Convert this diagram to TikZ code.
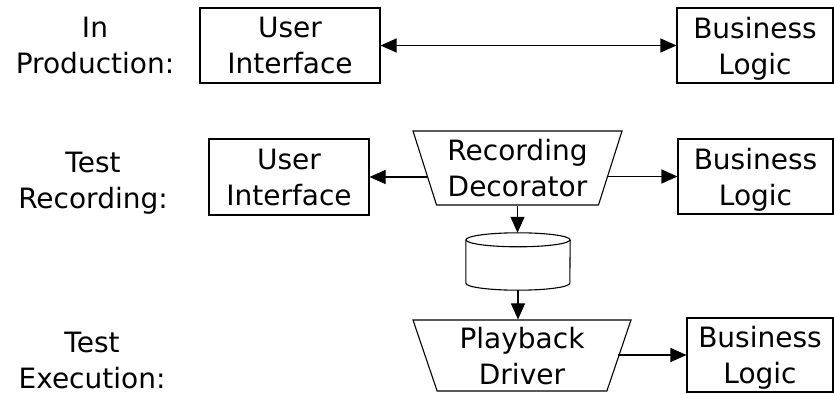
\documentclass[tikz,border=0pt]{standalone}
\usepackage{fontspec}
\setmainfont{DejaVu Sans}
\usetikzlibrary{shapes.geometric,arrows.meta}
\begin{document}
\begin{tikzpicture}[x=1pt,y=-1pt,
  every node/.style={font=\fontsize{28}{36}\selectfont, align=center, text depth=0pt, inner sep=2pt},
  conn/.style={line width=1.1pt},
  arr/.style={conn, -{Triangle[length=16pt,width=14pt]}},
  darr/.style={conn, {Triangle[length=16pt,width=14pt]}-{Triangle[length=16pt,width=14pt]}},
  box/.style={draw, line width=1.1pt, rectangle},
  deco/.style={draw, line width=1.1pt, trapezium, shape border rotate=180, trapezium stretches body=true},
  lbl/.style={inner sep=0pt}]
\useasboundingbox (0,0) rectangle (834,393);
% Row 1
\node[lbl] (l1) at (95,45) {In\\Production:};
\node[box, minimum width=180pt, minimum height=75pt] (ui1) at (290,45.5) {User\\Interface};
\node[box, minimum width=156pt, minimum height=75pt] (bl1) at (755,45.5) {Business\\Logic};
\draw[darr] (ui1.east) -- (bl1.west);
% Row 2
\node[lbl] (l2) at (93,180) {Test\\Recording:};
\node[box, minimum width=160pt, minimum height=76pt] (ui2) at (289,177) {User\\Interface};
\node[deco, trapezium left angle=69, trapezium right angle=69, minimum width=209pt, minimum height=74pt] (dec) at (517.5,168) {Recording\\Decorator};
\node[box, minimum width=155pt, minimum height=75pt] (bl2) at (755.5,176.5) {Business\\Logic};
\draw[arr] ([xshift=3pt]dec.west |- ui2.east) -- (ui2.east);
\draw[arr] ([xshift=-3pt]dec.east |- bl2.west) -- (bl2.west);
% Database
\node[minimum width=104pt, minimum height=57pt, inner sep=0pt] (db) at (518,261.5) {};
\draw[conn] ([yshift=-7pt]db.north west) -- ([yshift=7pt]db.south west)
  arc[start angle=180, end angle=0, x radius=52, y radius=7] -- ([yshift=-7pt]db.north east);
\draw[conn] ([yshift=-7pt]db.north) ellipse[x radius=52, y radius=7];
\draw[arr] (dec.south) -- (dec.south |- db.north);
% Row 3
\node[lbl] (l3) at (92,360) {Test\\Execution:};
\node[deco, trapezium left angle=68.5, trapezium right angle=68.5, minimum width=218pt, minimum height=71pt] (pb) at (522,355.5) {Playback\\Driver};
\node[box, minimum width=146pt, minimum height=74pt] (bl3) at (760,355) {Business\\Logic};
\draw[arr] (db.south) -- (db.south |- pb.north);
\draw[arr] ([xshift=-2pt]pb.east |- bl3.west) -- (bl3.west);
\end{tikzpicture}
\end{document}
